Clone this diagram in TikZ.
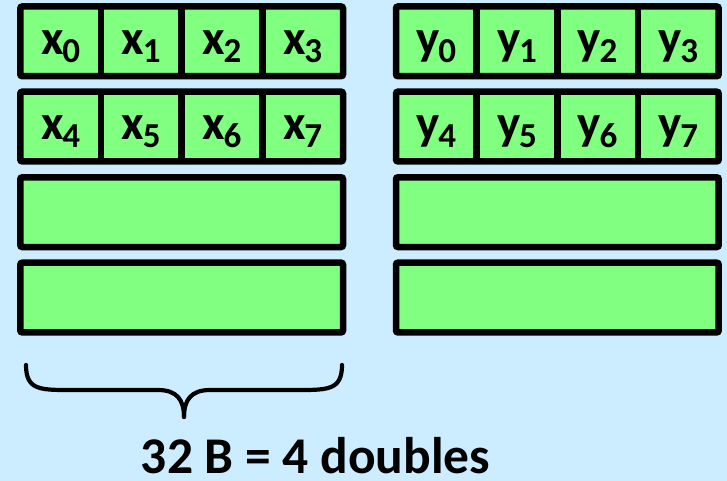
\documentclass[tikz,border=0pt]{standalone}
\usepackage{fontspec}
\setmainfont{Carlito}
\usetikzlibrary{calc}
\definecolor{bg}{RGB}{204,236,255}
\definecolor{cellgreen}{RGB}{128,255,128}
\begin{document}
\begin{tikzpicture}[x=1pt,y=-1pt,
  rowbox/.style={draw=black, fill=cellgreen, line width=6.5pt, rounded corners=2pt,
    minimum width=322.7pt, minimum height=69.7pt, inner sep=0pt, outer sep=0pt, anchor=north west},
  divider/.style={line width=6.5pt},
  lbl/.style={anchor=base, inner sep=0pt, font=\bfseries},
  bracestyle/.style={line width=4.2pt, line cap=round, line join=round}]
\fill[bg] (0,0) rectangle (727,481);
\useasboundingbox (0,0) rectangle (727,481);
% rows
\foreach \i/\t in {1/6.5,2/91.7,3/177.3,4/262.7}{
  \node[rowbox] (xr\i) at (20.3,\t) {};
  \node[rowbox] (yr\i) at (396,\t) {};
}
% dividers
\foreach \r in {xr1,xr2,yr1,yr2}{
  \foreach \f in {0.25,0.5,0.75}{
    \draw[divider] ($(\r.north west)!\f!(\r.north east)$) -- ($(\r.south west)!\f!(\r.south east)$);
  }
}
% labels
\foreach \j in {0,1,2,3}{
  \pgfmathtruncatemacro{\k}{\j+4}
  \node[lbl] (x\j) at ($(xr1.north west)!{(\j+0.5)/4}!(xr1.north east)+(0,47.8)$)
    {\fontsize{49}{49}\selectfont x\kern-1.5pt\raisebox{-8.4pt}{\fontsize{35}{35}\selectfont \j}};
  \node[lbl] (x\k) at ($(xr2.north west)!{(\j+0.5)/4}!(xr2.north east)+(0,47.8)$)
    {\fontsize{49}{49}\selectfont x\kern-1.5pt\raisebox{-8.4pt}{\fontsize{35}{35}\selectfont \k}};
  \node[lbl] (y\j) at ($(yr1.north west)!{(\j+0.5)/4}!(yr1.north east)+(0,47.8)$)
    {\fontsize{49}{49}\selectfont y\kern-1.5pt\raisebox{-8.4pt}{\fontsize{35}{35}\selectfont \j}};
  \node[lbl] (y\k) at ($(yr2.north west)!{(\j+0.5)/4}!(yr2.north east)+(0,47.8)$)
    {\fontsize{49}{49}\selectfont y\kern-1.5pt\raisebox{-8.4pt}{\fontsize{35}{35}\selectfont \k}};
}
% brace
\coordinate (bl) at (26,365);
\coordinate (br) at (342,365);
\coordinate (bt) at (184,417);
\draw[bracestyle] (bl) .. controls (26,390) and (40,390) .. (70,390) -- (158,390)
  .. controls (177,390) and (184,400) .. (bt);
\draw[bracestyle] (br) .. controls (342,390) and (328,390) .. (298,390) -- (210,390)
  .. controls (191,390) and (184,400) .. (bt);
% caption
\node[anchor=base, inner sep=0pt, font=\bfseries\fontsize{51.5}{51.5}\selectfont] (cap) at (315.5,473.3) {32 B = 4 doubles};
\end{tikzpicture}
\end{document}
